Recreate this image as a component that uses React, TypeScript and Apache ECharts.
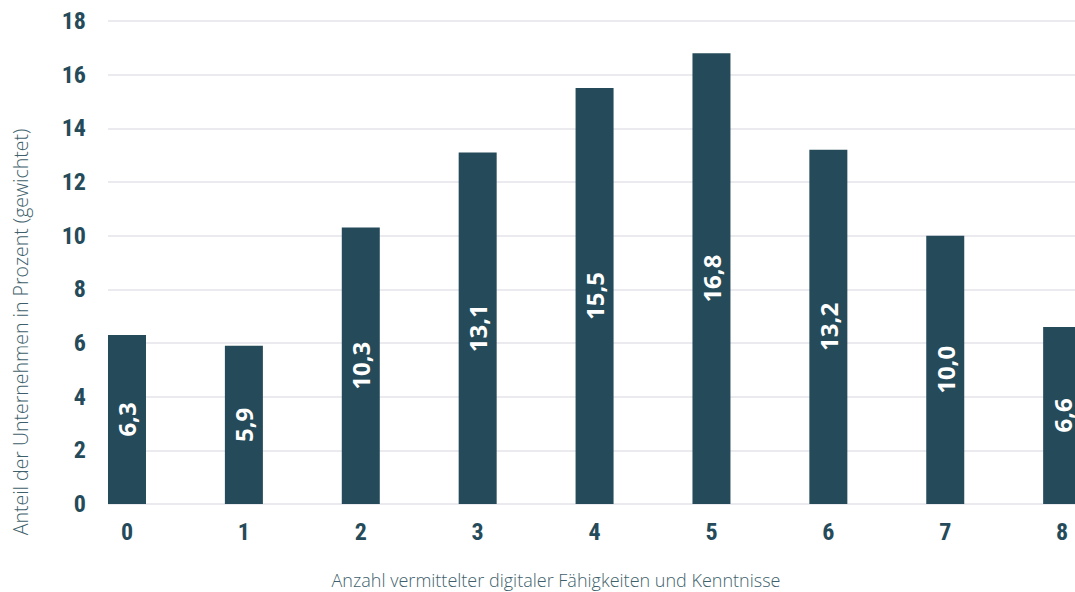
import React, { useEffect, useRef } from "react";
import * as echarts from "echarts";

const categories: number[] = [0, 1, 2, 3, 4, 5, 6, 7, 8];
const shares: number[] = [6.3, 5.9, 10.3, 13.1, 15.5, 16.8, 13.2, 10.0, 6.6];
const yTicks = { min: 0, max: 18, interval: 2 };
const xTitle = "Anzahl vermittelter digitaler Fähigkeiten und Kenntnisse";
const yTitle = "Anteil der Unternehmen in Prozent (gewichtet)";

const DARK = "#254b5a";
const COND = "'Roboto Condensed','Liberation Sans Narrow','DejaVu Sans Condensed','Arial Narrow',sans-serif";

export default function App() {
  const ref = useRef<HTMLDivElement>(null);
  useEffect(() => {
    if (!ref.current) return;
    const chart = echarts.init(ref.current, null, { renderer: "svg" });
    chart.setOption({
      animation: false,
      backgroundColor: "#ffffff",
      grid: { left: 108, right: 0, top: 21, bottom: 88, containLabel: false },
      xAxis: {
        type: "value",
        min: -0.1625,
        max: 8.11,
        splitLine: { show: false },
        axisLine: { show: false },
        axisTick: { show: false },
        axisLabel: {
          customValues: categories,
          color: DARK,
          fontFamily: COND,
          fontWeight: "bold",
          fontSize: 24,
          margin: 16,
          formatter: (v: number) => String(v),
        },
      },
      yAxis: {
        type: "value",
        min: yTicks.min,
        max: yTicks.max,
        interval: yTicks.interval,
        axisLine: { show: false },
        axisTick: { show: false },
        splitLine: { lineStyle: { color: "#e5e5ea", width: 1.5 } },
        axisLabel: {
          color: DARK,
          fontFamily: COND,
          fontWeight: "bold",
          fontSize: 24,
          margin: 22,
        },
      },
      graphic: [
        {
          type: "text",
          x: 20,
          y: 332,
          rotation: Math.PI / 2,
          style: {
            text: yTitle,
            fill: "#3e5f6c",
            font: "300 19.5px 'Open Sans', 'Noto Sans', sans-serif",
            align: "center",
            verticalAlign: "middle",
          },
        },
        {
          type: "text",
          x: 556,
          y: 580,
          style: {
            text: xTitle,
            fill: "#3e5f6c",
            font: "300 18px 'Open Sans', 'Noto Sans', sans-serif",
            align: "center",
            verticalAlign: "middle",
          },
        },
      ],
      series: [
        {
          type: "bar",
          data: categories.map((c, i) => [c, shares[i]]),
          barWidth: 38,
          clip: false,
          itemStyle: { color: DARK },
          label: {
            show: true,
            position: "inside",
            rotate: 90,
            color: "#ffffff",
            fontFamily: "'Open Sans','Noto Sans',sans-serif",
            fontWeight: "bold",
            fontSize: 24,
            formatter: (p: any) => p.value[1].toFixed(1).replace(".", ","),
          },
        },
      ],
    });
    return () => chart.dispose();
  }, []);
  return (
    <div
      ref={ref}
      style={{ position: "fixed", left: 0, top: 0, width: 1075, height: 592, overflow: "hidden" }}
    />
  );
}
